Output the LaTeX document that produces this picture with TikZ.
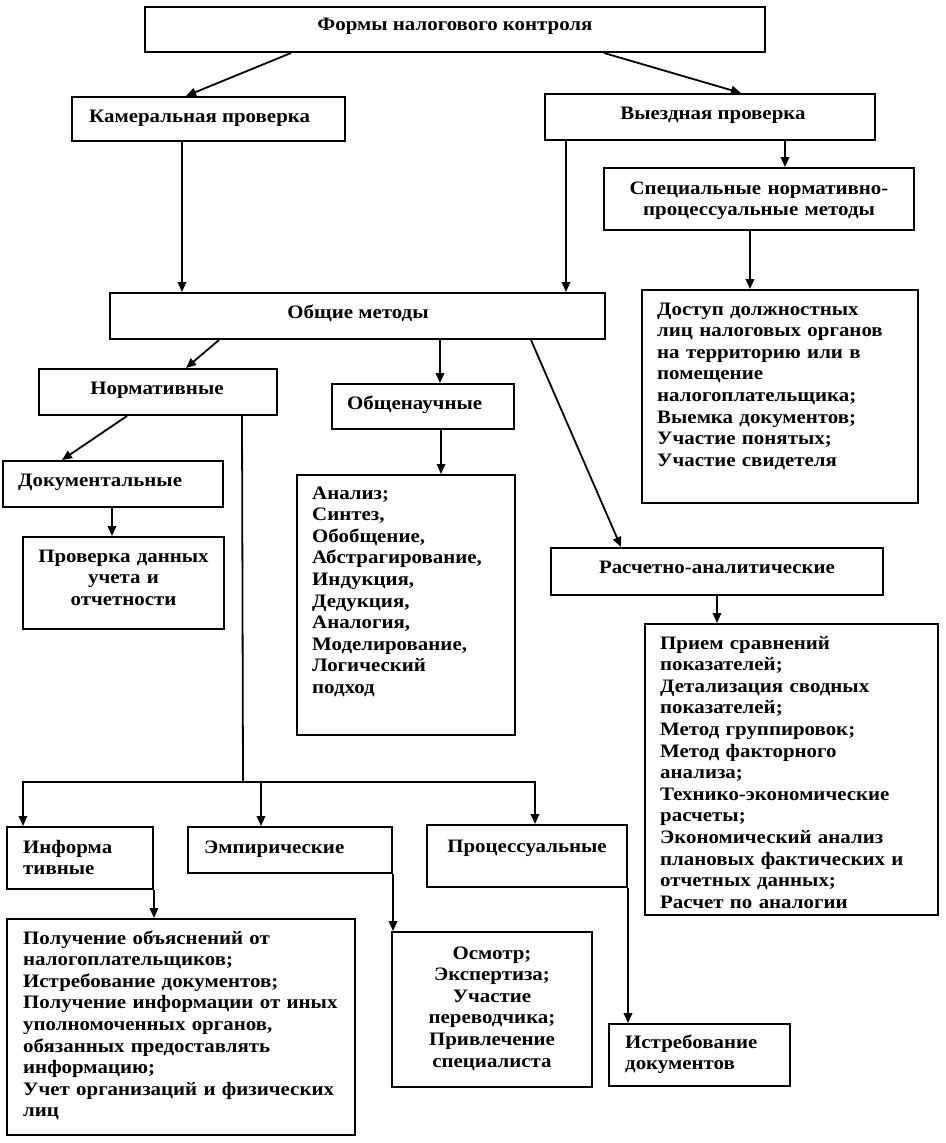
\documentclass[tikz,border=0pt]{standalone}
\usepackage{fontspec}
\setmainfont{Liberation Serif}[FakeStretch=1.1]
\usetikzlibrary{arrows.meta,fit}
\begin{document}
\begin{tikzpicture}[x=1pt,y=-1pt,
  bx/.style={draw, line width=2pt, inner sep=0pt},
  arr/.style={line width=1.8pt, -{Triangle[length=10pt,width=8.5pt]}},
  ln/.style={line width=1.8pt},
  tx/.style={inner sep=0pt, font=\fontsize{19}{21.6}\selectfont\bfseries},
  lst/.style={tx, text width=400pt, align=left, anchor=base west},
  ctr/.style={tx, text width=#1, align=center, anchor=base},
]
\useasboundingbox[fill=white] (0,0) rectangle (945,1143);

% boxes
\node[bx, fit={(145,7)(765,52)}] (top) {};
\node[bx, fit={(72,97)(345,141)}] (kam) {};
\node[bx, fit={(545,94)(875,140)}] (vy) {};
\node[bx, fit={(604,168)(914,230)}] (spec) {};
\node[bx, fit={(110,293)(605,339)}] (obsh) {};
\node[bx, fit={(642,290)(918,503)}] (dost) {};
\node[bx, fit={(39,369)(277,415)}] (norm) {};
\node[bx, fit={(332,384)(514,429)}] (on) {};
\node[bx, fit={(3,461)(223,507)}] (dok) {};
\node[bx, fit={(23,537)(224,629)}] (prov) {};
\node[bx, fit={(297,475)(515,735)}] (an) {};
\node[bx, fit={(551,548)(883,595)}] (rasch) {};
\node[bx, fit={(645,624)(938,915)}] (priem) {};
\node[bx, fit={(7,827)(153,889)}] (inf) {};
\node[bx, fit={(188,827)(392,873)}] (emp) {};
\node[bx, fit={(427,825)(627,887)}] (proc) {};
\node[bx, fit={(7,919)(355,1135)}] (pol) {};
\node[bx, fit={(392,932)(592,1087)}] (osm) {};
\node[bx, fit={(609,1024)(790,1086)}] (ist) {};

% texts
\node[tx, anchor=base] (topT) at (455,30) {Формы налогового контроля};
\node[tx, anchor=base west] (kamT) at (89,122) {Камеральная проверка};
\node[tx, anchor=base] (vyT) at (713,119) {Выездная проверка};
\node[ctr=300pt] (specT) at (759,194) {Специальные нормативно-\\процессуальные методы};
\node[tx, anchor=base] (obshT) at (358,318) {Общие методы};
\node[lst] (dostT) at (657,315) {Доступ должностных\\лиц налоговых органов\\на территорию или в\\помещение\\налогоплательщика;\\Выемка документов;\\Участие понятых;\\Участие свидетеля};
\node[tx, anchor=base] (normT) at (157,394) {Нормативные};
\node[tx, anchor=base west] (onT) at (347,409) {Общенаучные};
\node[tx, anchor=base west] (dokT) at (18,486) {Документальные};
\node[ctr=190pt] (provT) at (123.5,562) {Проверка данных\\учета и\\отчетности};
\node[lst] (anT) at (312,499) {Анализ;\\Синтез,\\Обобщение,\\Абстрагирование,\\Индукция,\\Дедукция,\\Аналогия,\\Моделирование,\\Логический\\подход};
\node[tx, anchor=base] (raschT) at (717,573) {Расчетно-аналитические};
\node[lst] (priemT) at (660,649) {Прием сравнений\\показателей;\\Детализация сводных\\показателей;\\Метод группировок;\\Метод факторного\\анализа;\\Технико-экономические\\расчеты;\\Экономический анализ\\плановых фактических и\\отчетных данных;\\Расчет по аналогии};
\node[lst] (infT) at (23,853) {Информа\\тивные};
\node[tx, anchor=base west] (empT) at (204,853) {Эмпирические};
\node[tx, anchor=base] (procT) at (527,852) {Процессуальные};
\node[lst] (polT) at (23,944) {Получение объяснений от\\налогоплательщиков;\\Истребование документов;\\Получение информации от иных\\уполномоченных органов,\\обязанных предоставлять\\информацию;\\Учет организаций и физических\\лиц};
\node[ctr=190pt] (osmT) at (492,959) {Осмотр;\\Экспертиза;\\Участие\\переводчика;\\Привлечение\\специалиста};
\node[lst] (istT) at (625,1048) {Истребование\\документов};

% connectors
\draw[arr] ([xshift=147pt]top.south west) -- ([xshift=115pt]kam.north west);
\draw[arr] ([xshift=460pt]top.south west) -- ([xshift=197pt]vy.north west);
\draw[arr] ([xshift=111pt]kam.south west) -- ([xshift=111pt]kam.south west |- obsh.north);
\draw[arr] ([xshift=22pt]vy.south west) -- ([xshift=22pt]vy.south west |- obsh.north);
\draw[arr] ([xshift=241pt]vy.south west) -- ([xshift=241pt]vy.south west |- spec.north);
\draw[arr] ([xshift=147pt]spec.south west) -- ([xshift=147pt]spec.south west |- dost.north);
\draw[arr] ([xshift=110pt]obsh.south west) -- ([xshift=148pt]norm.north west);
\draw[arr] ([xshift=331pt]obsh.south west) -- ([xshift=331pt]obsh.south west |- on.north);
\draw[arr] ([xshift=422pt]obsh.south west) -- ([xshift=71pt]rasch.north west);
\draw[arr] ([xshift=89pt]norm.south west) -- ([xshift=60pt]dok.north west);
\draw[arr] ([xshift=110pt]dok.south west) -- ([xshift=110pt]dok.south west |- prov.north);
\draw[arr] ([xshift=110pt]on.south west) -- ([xshift=110pt]on.south west |- an.north);
\draw[arr] (rasch.south) -- (rasch.south |- priem.north);

\coordinate (jn) at (243,782);
\draw[ln] ([xshift=204pt]norm.south west) -- (jn);
\draw[arr] (jn) -| ([xshift=17pt]inf.north west);
\draw[arr] (jn) -| ([xshift=74pt]emp.north west);
\draw[arr] (jn) -| ([xshift=109pt]proc.north west);

\draw[arr] (inf.south east) -- (inf.south east |- pol.north);
\draw[arr] (emp.south east) -- (emp.south east |- osm.north);
\draw[arr] (proc.south east) -- (proc.south east |- ist.north);
\end{tikzpicture}
\end{document}
